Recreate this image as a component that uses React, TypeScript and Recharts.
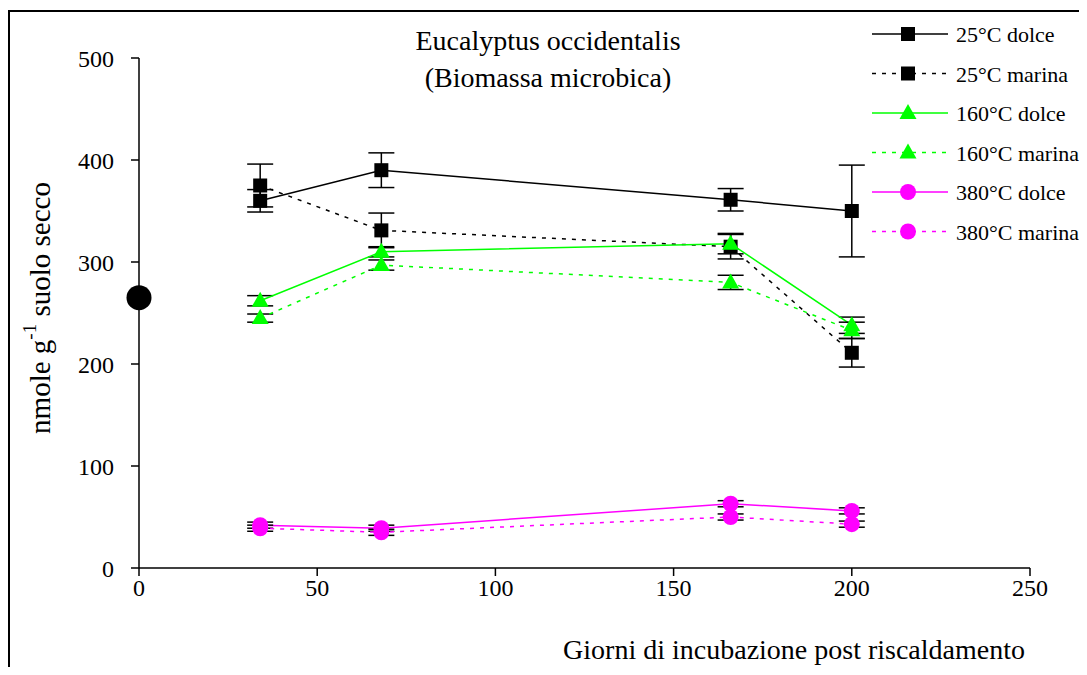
import React from 'react';
import { ComposedChart, Line, Scatter, XAxis, YAxis, ErrorBar, Legend } from 'recharts';

const days = [34, 68, 166, 200];

const dolce25 = [360, 390, 361, 350];
const errDolce25 = [11, 17, 11, 45];
const marina25 = [375, 331, 315, 211];
const errMarina25 = [21, 17, 12, 14];

const dolce160 = [262, 310, 318, 238];
const errDolce160 = [5, 5, 10, 8];
const marina160 = [245, 297, 280, 233];
const errMarina160 = [4, 5, 7, 8];

const dolce380 = [42, 39, 63, 56];
const errDolce380 = [3, 3, 3, 3];
const marina380 = [39, 35, 50, 43];
const errMarina380 = [3, 3, 3, 3];

// campione di controllo (giorno 0)
const controlDay = [0];
const controlValue = [265];

const xTicks = [0, 50, 100, 150, 200, 250];
const yTicks = [0, 100, 200, 300, 400, 500];

const FONT = '"Liberation Serif", "Times New Roman", serif';
const GREEN = '#00FF00';
const MAGENTA = '#FF00FF';

const toRows = (vals: number[], errs: number[]) =>
  days.map((d, i) => ({ x: d, y: vals[i], e: errs[i] }));

type Shape = 'square' | 'triangle' | 'circle';

const series = [
  { name: '25°C dolce', data: toRows(dolce25, errDolce25), color: '#000', dashed: false, shape: 'square' as Shape },
  { name: '25°C marina', data: toRows(marina25, errMarina25), color: '#000', dashed: true, shape: 'square' as Shape },
  { name: '160°C dolce', data: toRows(dolce160, errDolce160), color: GREEN, dashed: false, shape: 'triangle' as Shape },
  { name: '160°C marina', data: toRows(marina160, errMarina160), color: GREEN, dashed: true, shape: 'triangle' as Shape },
  { name: '380°C dolce', data: toRows(dolce380, errDolce380), color: MAGENTA, dashed: false, shape: 'circle' as Shape },
  { name: '380°C marina', data: toRows(marina380, errMarina380), color: MAGENTA, dashed: true, shape: 'circle' as Shape },
];

const control = controlDay.map((d, i) => ({ x: d, y: controlValue[i] }));

function marker(shape: Shape, cx: number, cy: number, color: string, key?: any) {
  if (shape === 'square') {
    return <rect key={key} x={cx - 7} y={cy - 7} width={14} height={14} fill={color} />;
  }
  if (shape === 'triangle') {
    return (
      <polygon
        key={key}
        points={`${cx},${cy - 9} ${cx - 8.5},${cy + 6} ${cx + 8.5},${cy + 6}`}
        fill={color}
      />
    );
  }
  return <circle key={key} cx={cx} cy={cy} r={8} fill={color} />;
}

const LegendBox = () => (
  <svg width={227} height={245} style={{ display: 'block' }}>
    {series.map((s, i) => {
      const y = 22 + i * 39.5;
      return (
        <g key={s.name}>
          <line
            x1={12}
            x2={88}
            y1={y}
            y2={y}
            stroke={s.color}
            strokeWidth={1.5}
            strokeDasharray={s.dashed ? '4 6' : undefined}
          />
          {marker(s.shape, 48, y, s.color)}
          <text x={96} y={y + 8} fontSize={22} fontFamily={FONT} fill="#000">
            {s.name}
          </text>
        </g>
      );
    })}
  </svg>
);

export default function App() {
  return (
    <div style={{ position: 'relative', width: 1079, height: 659, overflow: 'hidden', background: '#fff' }}>
      <div
        style={{
          position: 'absolute',
          left: 0,
          top: 2,
          width: 1300,
          height: 900,
          borderLeft: '2px solid #000',
          borderTop: '2px solid #000',
        }}
      />
      <ComposedChart
        width={1079}
        height={659}
        margin={{ top: 50, right: 57, bottom: 69, left: 71 }}
        style={{ position: 'absolute', left: 0, top: 0 }}
      >
        <XAxis
          type="number"
          dataKey="x"
          domain={[0, 250]}
          ticks={xTicks}
          height={30}
          tickSize={8}
          tickMargin={3}
          axisLine={{ stroke: '#000', strokeWidth: 1.5 }}
          tickLine={{ stroke: '#000', strokeWidth: 1.5 }}
          tick={{ fill: '#000', fontSize: 24, fontFamily: FONT }}
        />
        <YAxis
          type="number"
          domain={[0, 500]}
          ticks={yTicks}
          width={60}
          tickSize={8}
          tickMargin={17}
          axisLine={{ stroke: '#000', strokeWidth: 1.5 }}
          tickLine={{ stroke: '#000', strokeWidth: 1.5 }}
          tick={{ fill: '#000', fontSize: 24, fontFamily: FONT }}
        />
        {series.map((s) => (
          <Line
            key={s.name}
            name={s.name}
            data={s.data}
            dataKey="y"
            type="linear"
            stroke={s.color}
            strokeWidth={1.5}
            strokeDasharray={s.dashed ? '4 6' : undefined}
            dot={(p: any) => marker(s.shape, p.cx, p.cy, s.color, `${s.name}-${p.index}`)}
            activeDot={false}
            isAnimationActive={false}
          >
            <ErrorBar dataKey="e" width={13} stroke="#000" strokeWidth={1.5} direction="y" />
          </Line>
        ))}
        <Scatter
          data={control}
          dataKey="y"
          fill="#000"
          isAnimationActive={false}
          shape={(p: any) => <circle cx={p.cx} cy={p.cy} r={12.5} fill="#000" />}
        />
        <Legend
          layout="vertical"
          align="center"
          verticalAlign="middle"
          content={() => <LegendBox />}
          wrapperStyle={{ position: 'absolute', left: 852, top: 4, width: 227, height: 245 }}
        />
        <text x={540} y={42} textAnchor="middle" fontSize={28} fontFamily={FONT} fill="#000">
          Eucalyptus occidentalis
        </text>
        <text x={540} y={79} textAnchor="middle" fontSize={28} fontFamily={FONT} fill="#000">
          (Biomassa microbica)
        </text>
        <text x={1017} y={651} textAnchor="end" fontSize={28} fontFamily={FONT} fill="#000">
          Giorni di incubazione post riscaldamento
        </text>
        <text
          x={32}
          y={300}
          transform="rotate(-90, 32, 300)"
          textAnchor="middle"
          dominantBaseline="central"
          fontSize={29}
          fontFamily={FONT}
          fill="#000"
        >
          nmole g<tspan dy={-11} fontSize={19}>-1</tspan>
          <tspan dy={11}> suolo secco</tspan>
        </text>
      </ComposedChart>
    </div>
  );
}
